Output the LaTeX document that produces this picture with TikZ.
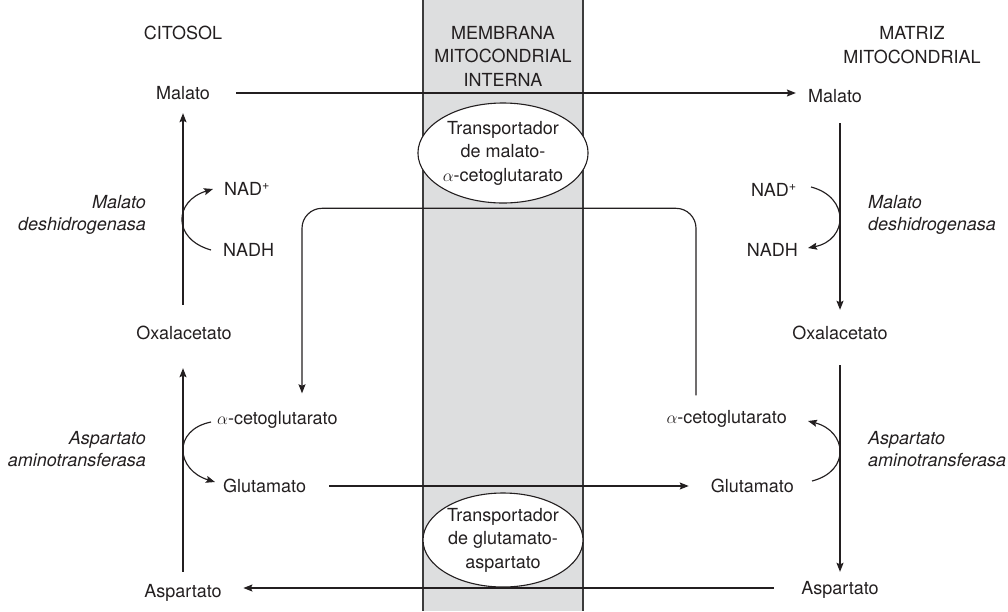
\documentclass[tikz,border=0pt]{standalone}
\usepackage{fontspec}
\setmainfont{TeX Gyre Heros}
\usetikzlibrary{arrows.meta,shapes.geometric}
\definecolor{ink}{RGB}{35,31,32}
\definecolor{membfill}{RGB}{221,222,223}
\definecolor{membline}{RGB}{60,60,60}
\begin{document}
\begin{tikzpicture}[x=1pt,y=-1pt,
  every node/.style={text=ink, font=\fontsize{18}{23.5}\selectfont},
  met/.style={inner sep=0pt, text height=13pt, text depth=0pt},
  hdr/.style={align=center, inner sep=0pt},
  enz/.style={font=\fontsize{18}{22}\selectfont\itshape, inner sep=0pt},
  carrier/.style={ellipse, draw=ink, line width=1.1pt, fill=white, align=center,
    inner sep=0pt, minimum width=160pt, minimum height=100pt},
  conn/.style={draw=ink, line width=1.15pt},
  arr/.style={conn, -{Stealth[length=9pt,width=7pt,inset=1.5pt]}},
]
\useasboundingbox (0,0) rectangle (1008,611);

% inner mitochondrial membrane band
\fill[membfill] (423,0) rectangle (583,611);
\draw[membline, line width=1.2pt] (423,0) -- (423,611) (583,0) -- (583,611);

% compartment headings
\node[hdr] (citosol) at (183,33) {CITOSOL};
\node[hdr] (membrana) at (503,56) {MEMBRANA\\MITOCONDRIAL\\INTERNA};
\node[hdr] (matriz) at (912,45) {MATRIZ\\MITOCONDRIAL};

% cytosol metabolites
\node[met] (cMal) at (183,93) {Malato};
\node[met] (cOxa) at (184,333) {Oxalacetato};
\node[met] (cAsp) at (183,591) {Aspartato};
\node[met, anchor=west] (cNad) at (224,189) {NAD\textsuperscript{+}};
\node[met, anchor=west] (cNadh) at (223,250) {NADH};
\node[met, anchor=west] (cAkg) at (217,418) {$\alpha$-cetoglutarato};
\node[met, anchor=west] (cGlu) at (223,486) {Glutamato};

% matrix metabolites
\node[met] (mMal) at (835,96) {Malato};
\node[met] (mOxa) at (840,333) {Oxalacetato};
\node[met] (mAsp) at (840,588) {Aspartato};
\node[met, anchor=east] (mNad) at (797,190) {NAD\textsuperscript{+}};
\node[met, anchor=east] (mNadh) at (798,250) {NADH};
\node[met, anchor=east] (mAkg) at (787,417) {$\alpha$-cetoglutarato};
\node[met, anchor=east] (mGlu) at (794,486) {Glutamato};

% carriers in the membrane
\node[carrier] (tMak) at (503,153) {Transportador\\de malato-\\$\alpha$-cetoglutarato};
\node[carrier, minimum height=94pt] (tGa) at (503,540) {Transportador\\de glutamato-\\aspartato};

% enzymes
\node[enz, anchor=east, align=right] (cMdh) at (146,215) {Malato\\deshidrogenasa};
\node[enz, anchor=west, align=left] (mMdh) at (868,215) {Malato\\deshidrogenasa};
\node[enz, anchor=east, align=right] (cAat) at (146,449) {Aspartato\\aminotransferasa};
\node[enz, anchor=west, align=left] (mAat) at (868,449) {Aspartato\\aminotransferasa};

% cytosol reactions
\draw[arr, shorten <=21.5pt, shorten >=13.5pt] (cOxa.north -| cMal.south) -- (cMal.south);
\draw[arr, shorten <=12.5pt, shorten >=28.5pt] (cAsp.north) -- (cAsp.north |- cOxa.south);
\draw[arr] ([xshift=-12pt]cNadh.west) .. controls +(-39,-11) and +(-39,12) .. ([xshift=-11pt]cNad.west);
\draw[arr] ([xshift=-6pt,yshift=-4pt]cAkg.west) .. controls +(-39,8) and +(-39,-12) .. ([xshift=-8pt,yshift=4pt]cGlu.west);

% matrix reactions
\draw[arr, shorten <=20.5pt, shorten >=16.5pt] (mMal.south -| mOxa.north) -- (mOxa.north);
\draw[arr, shorten <=25.5pt, shorten >=9.5pt] (mOxa.south) -- (mAsp.north);
\draw[arr] ([xshift=14pt,yshift=3pt]mNad.east) .. controls +(39,10) and +(40,-8) .. ([xshift=10pt,yshift=2pt]mNadh.east);
\draw[arr] ([xshift=18pt,yshift=5pt]mGlu.east) .. controls +(39,-10) and +(39,10) .. ([xshift=21pt,yshift=-4pt]mAkg.east);

% transport across the membrane
\draw[arr, shorten <=26pt, shorten >=12pt] (cMal.east) -- (cMal.east -| mMal.west);
\draw[arr, shorten <=23pt, shorten >=22pt] (cGlu.east) -- (mGlu.west);
\draw[arr, shorten <=27.5pt, shorten >=21.5pt] (mAsp.west) -- (mAsp.west -| cAsp.east);
\draw[arr, rounded corners=20pt] ([shift={(-91pt,15pt)}]mAkg.north east) -- ++(0,-187)
  -| ([shift={(85pt,18pt)}]cAkg.north west);
\end{tikzpicture}
\end{document}
